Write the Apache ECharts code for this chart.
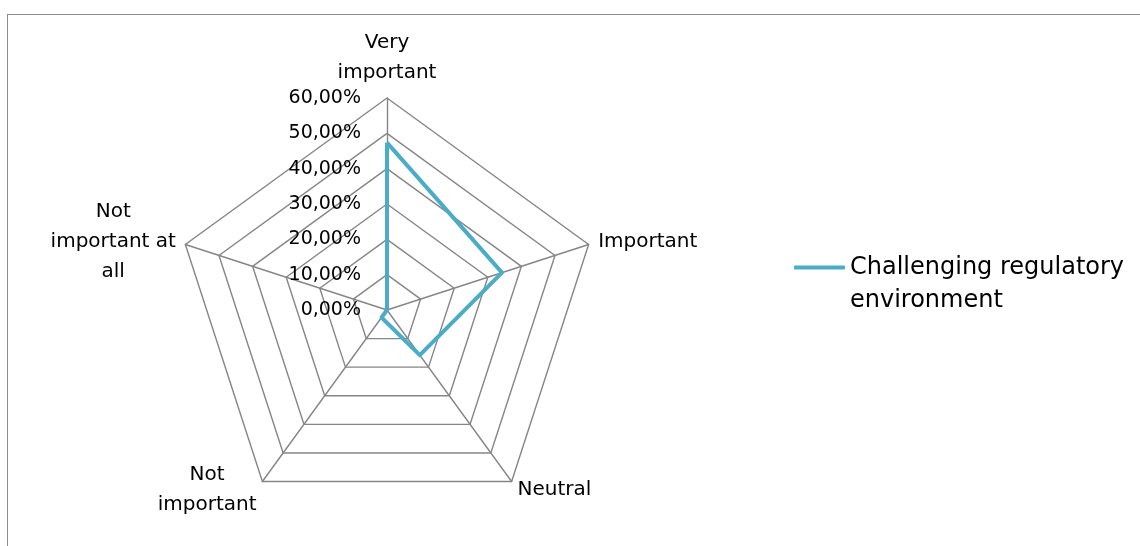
<!DOCTYPE html>
<html>
<head>
<meta charset="utf-8">
<script src="https://cdn.jsdelivr.net/npm/echarts@6/dist/echarts.min.js"></script>
<style>
  html, body { margin: 0; padding: 0; background: #fff; }
  #frame { position: absolute; left: 7px; top: 14px; width: 1200px; height: 600px;
           border: 1.5px solid #8c8c8c; box-sizing: border-box; }
  #chart { position: absolute; left: 0; top: 0; width: 1140px; height: 546px; }
</style>
</head>
<body>
<div id="frame"></div>
<div id="chart"></div>
<script>
// Radar axes, listed clockwise from the top
const categories = ['Very\nimportant', 'Important', 'Neutral', 'Not\nimportant', 'Not\nimportant at\nall'];
// Share of responses (%) for each axis, same order
const seriesName = 'Challenging regulatory environment';
const values = [47.37, 34.21, 15.79, 2.63, 0];
// Radial scale
const axisMax = 60;
const axisSplits = 6;

const FONT = 'DejaVu Sans';
const GRID = '#868686';

// ECharts lays indicators out counter-clockwise, so flip all but the first
const order = [0].concat([4, 3, 2, 1]);
const indicator = order.map((i, k) => {
  const ind = { name: categories[i], min: 0, max: axisMax };
  if (k === 0) {
    ind.axisLabel = {
      show: true,
      margin: 26,
      color: '#000',
      fontFamily: FONT,
      fontSize: 19,
      formatter: v => v.toFixed(2).replace('.', ',') + '%'
    };
  }
  return ind;
});
const radarValues = order.map(i => values[i]);

const chart = echarts.init(document.getElementById('chart'), null, { renderer: 'canvas' });
chart.setOption({
  animation: false,
  legend: {
    data: [seriesName],
    orient: 'vertical',
    left: 794,
    top: 218,
    padding: 0,
    itemWidth: 51,
    itemHeight: 4,
    icon: 'roundRect',
    // leading blank line keeps the marker level with the first text line
    formatter: () => '\nChallenging regulatory\nenvironment',
    textStyle: {
      fontFamily: FONT,
      fontSize: 24,
      lineHeight: 33,
      color: '#000'
    }
  },
  radar: {
    center: [387, 310],
    radius: 212,
    startAngle: 90,
    shape: 'polygon',
    splitNumber: axisSplits,
    nameGap: 10,
    indicator: indicator,
    axisName: {
      color: '#000',
      fontFamily: FONT,
      fontSize: 20,
      lineHeight: 30,
      formatter: name => name.split('\n').map(s => '{c|' + s + '}').join('\n'),
      rich: {
        c: { align: 'center', fontFamily: FONT, fontSize: 20, lineHeight: 30, color: '#000' }
      }
    },
    axisLine: { lineStyle: { color: GRID, width: 1.4 } },
    splitLine: { lineStyle: { color: GRID, width: 1.4 } },
    splitArea: { show: false },
    axisTick: { show: false },
    axisLabel: { show: false }
  },
  series: [{
    name: seriesName,
    type: 'radar',
    symbol: 'none',
    lineStyle: { color: '#4bacc6', width: 4 },
    itemStyle: { color: '#4bacc6' },
    data: [{ name: seriesName, value: radarValues }]
  }]
});
</script>
</body>
</html>
